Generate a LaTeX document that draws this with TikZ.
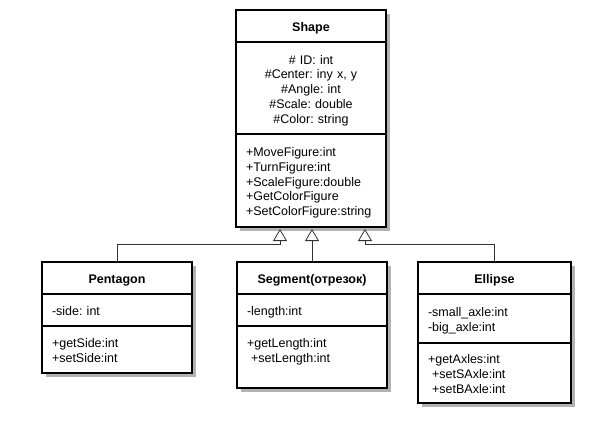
\documentclass[tikz,border=0pt]{standalone}
\usepackage{fontspec}
\setmainfont{Liberation Sans}
\frenchspacing
\usetikzlibrary{arrows.meta,shadows,positioning}

\newcommand{\umlfont}{\fontsize{12.5}{14.75}\selectfont}

\tikzset{
  umlpart/.style={draw, line width=2pt, fill=white, inner sep=0pt, outer sep=0pt,
    minimum width=150pt, text width=130pt, align=left, font=\umlfont,
    execute at begin node={\rule{0pt}{14pt}},
    execute at end node={\rule[-3pt]{0pt}{3pt}},
    drop shadow={shadow xshift=4pt, shadow yshift=-4pt, fill=black!30, opacity=1, draw=none}},
  umltitle/.style={umlpart, align=center, minimum height=32pt, font=\umlfont\bfseries},
  inherit/.style={draw=black!80, line width=0.8pt,
    -{Triangle[width=14pt, length=12pt, fill=white]}}
}

\begin{document}
\begin{tikzpicture}[x=1pt, y=-1pt]
		\useasboundingbox (0,0) rectangle (600,434);
		
		%%%%% Shape %%%%%
		\node[umltitle, anchor=north] (shape-title) at (311,10) {Shape};
		\node[umlpart, align=center, anchor=north, minimum height=92pt] (shape-attr) at (shape-title.south)
			{\# ID: int\\\#Center: iny x, y\\\#Angle: int\\\#Scale: double\\\#Color: string};
		\node[umlpart, anchor=north, minimum height=93pt] (shape-ops) at (shape-attr.south)
			{+MoveFigure:int\\+TurnFigure:int\\+ScaleFigure:double\\+GetColorFigure\\+SetColorFigure:string};
		
		%%%%% Pentagon %%%%%
		\node[umltitle, anchor=north] (pentagon-title) at (117,262) {Pentagon};
		\node[umlpart, anchor=north, minimum height=32pt] (pentagon-attr) at (pentagon-title.south) {-side: int};
		\node[umlpart, anchor=north, minimum height=47pt] (pentagon-ops) at (pentagon-attr.south)
			{+getSide:int\\+setSide:int};
		
		%%%%% Segment %%%%%
		\node[umltitle, anchor=north] (segment-title) at (312,262) {Segment(отрезок)};
		\node[umlpart, anchor=north, minimum height=32pt] (segment-attr) at (segment-title.south) {-length:int};
		\node[umlpart, anchor=north, minimum height=62pt] (segment-ops) at (segment-attr.south)
			{+getLength:int\\\ +setLength:int\\\mbox{}};
		
		%%%%% Ellipse %%%%%
		\node[umltitle, anchor=north, minimum width=153pt, text width=133pt] (ellipse-title) at (494.5,262) {Ellipse};
		\node[umlpart, anchor=north, minimum width=153pt, text width=133pt, minimum height=49pt] (ellipse-attr) at (ellipse-title.south)
			{-small\_axle:int\\-big\_axle:int};
		\node[umlpart, anchor=north, minimum width=153pt, text width=133pt, minimum height=60pt] (ellipse-ops) at (ellipse-attr.south)
			{+getAxles:int\\\ +setSAxle:int\\\ +setBAxle:int};
		
		%%%%% inheritance %%%%%
		\coordinate (tip-pentagon) at ([xshift=-31pt, yshift=-2pt]shape-ops.south);
		\coordinate (tip-segment) at ([xshift=1pt, yshift=-2pt]shape-ops.south);
		\coordinate (tip-ellipse) at ([xshift=54pt, yshift=-2pt]shape-ops.south);
		
		\draw[inherit] (pentagon-title.north) |- ([yshift=-15pt]tip-pentagon) -- (tip-pentagon);
		\draw[inherit] (segment-title.north) -- (tip-segment);
		\draw[inherit] (ellipse-title.north) |- ([yshift=-15pt]tip-ellipse) -- (tip-ellipse);
	\end{tikzpicture}
\end{document}
